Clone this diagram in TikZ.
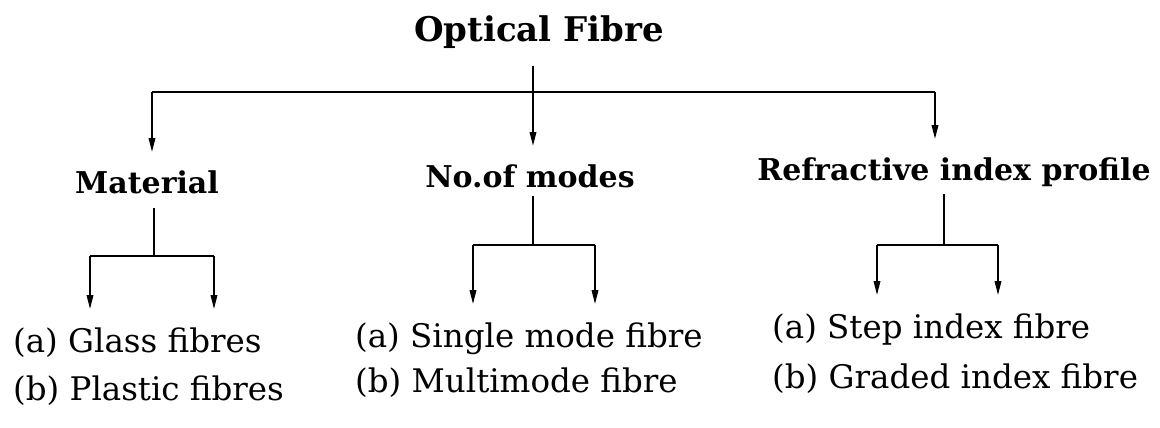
\documentclass[tikz,border=0pt]{standalone}
\usepackage{fontspec}
\setmainfont{DejaVu Serif}
\usetikzlibrary{arrows.meta}

\begin{document}
\begin{tikzpicture}[
  x=1pt,y=-1pt,
  head/.style={font=\fontsize{34}{40}\selectfont\bfseries,inner sep=0pt,anchor=base},
  branch/.style={font=\fontsize{30}{36}\selectfont\bfseries,inner sep=0pt,anchor=base},
  leaf/.style={font=\fontsize{32.5}{38}\selectfont,inner sep=0pt,anchor=base west},
  link/.style={line width=1.8pt},
  arrow/.style={link,-{Triangle[length=14pt,width=6.5pt]},shorten >=18pt}
]
\useasboundingbox (0,0) rectangle (1160,428);
% top level
\node[head] (root) at (539,42) {Optical Fibre};
\node[branch] (mat) at (147,193) {Material};
\node[branch] (mod) at (530,187) {No.of modes};
\node[branch] (ref) at (954,180) {Refractive index profile};
\coordinate (tl) at (152,92);
\coordinate (tm) at (533,92);
\coordinate (tr) at (935,92);
\draw[link,shorten <=17pt] (root.south -| tm) -- (tm);
\draw[link] (tl) -- (tr);
\draw[arrow] (tl) -- (tl |- mat.north);
\draw[arrow] (tm) -- (tm |- mod.north);
\draw[arrow] (tr) -- (tr |- ref.north);
% leaves
\node[leaf] (ga) at (13,352) {(a) Glass fibres};
\node[leaf] (pl) at (13,400) {(b) Plastic fibres};
\node[leaf] (sm) at (355,347) {(a) Single mode fibre};
\node[leaf] (mm) at (355,392) {(b) Multimode fibre};
\node[leaf] (si) at (772,338) {(a) Step index fibre};
\node[leaf] (gi) at (772,388) {(b) Graded index fibre};
% material
\coordinate (mj) at (154,256);
\coordinate (ml) at (90,256);
\coordinate (mr) at (214,256);
\draw[link,shorten <=14pt] (mat.south -| mj) -- (mj);
\draw[link] (ml) -- (mr);
\draw[arrow] (ml) -- (ml |- ga.north);
\draw[arrow] (mr) -- (mr |- ga.north);
% modes
\coordinate (nj) at (533,245);
\coordinate (nl) at (473,245);
\coordinate (nr) at (595,245);
\draw[link,shorten <=8pt] (mod.south -| nj) -- (nj);
\draw[link] (nl) -- (nr);
\draw[arrow] (nl) -- (nl |- sm.north);
\draw[arrow] (nr) -- (nr |- sm.north);
% index profile
\coordinate (rj) at (944,245);
\coordinate (rl) at (877,245);
\coordinate (rr) at (998,245);
\draw[link,shorten <=8pt] (ref.south -| rj) -- (rj);
\draw[link] (rl) -- (rr);
\draw[arrow] (rl) -- (rl |- si.north);
\draw[arrow] (rr) -- (rr |- si.north);
\end{tikzpicture}
\end{document}
